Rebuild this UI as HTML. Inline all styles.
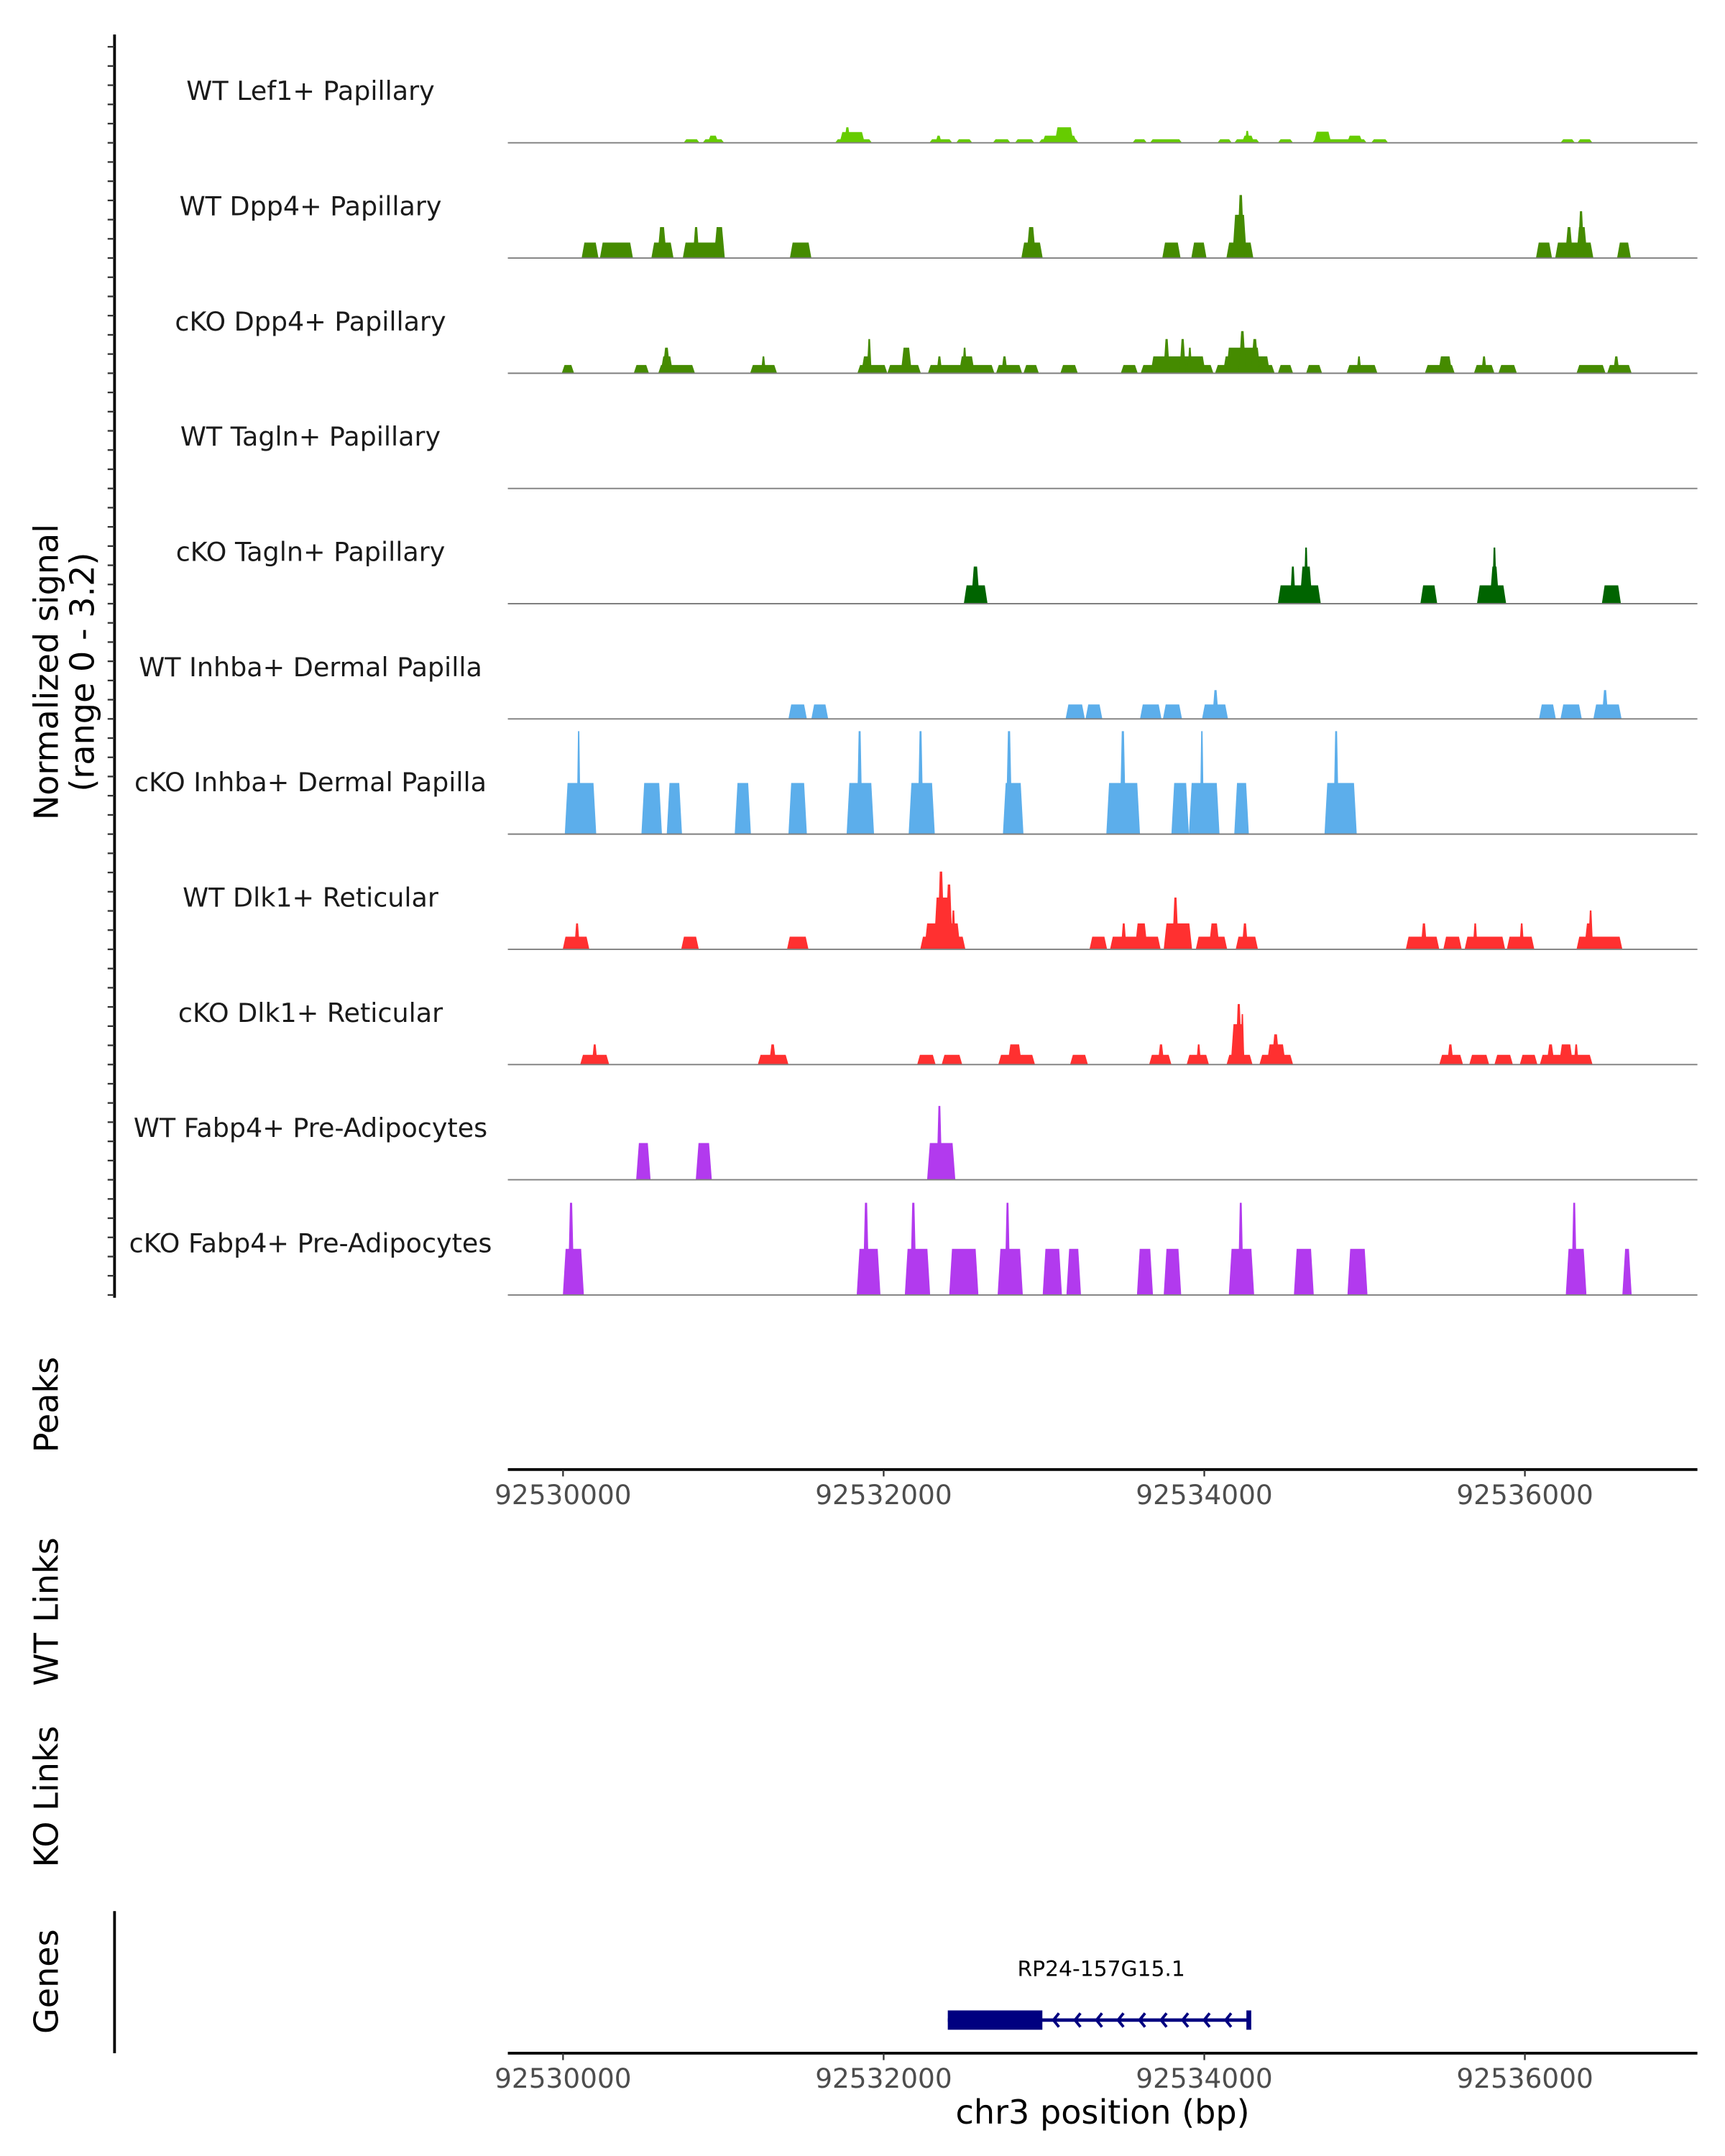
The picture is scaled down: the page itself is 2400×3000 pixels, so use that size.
<!DOCTYPE html>
<html><head><meta charset="utf-8"><title>Coverage plot</title>
<style>
html,body{margin:0;padding:0;background:#fff;}
svg{display:block;font-family:"DejaVu Sans","Liberation Sans",sans-serif;}
</style></head>
<body>
<svg id="chart" xmlns="http://www.w3.org/2000/svg" width="2400" height="3000" viewBox="0 0 1250 1562.5">
<g id="tracks"></g>
<g id="axes"></g>
</svg>
<script>
// ---- data (bp offsets from 92530000, normalized signal 0-3.2) ----
const trackNames = ["WT Lef1+ Papillary","WT Dpp4+ Papillary","cKO Dpp4+ Papillary","WT Tagln+ Papillary","cKO Tagln+ Papillary","WT Inhba+ Dermal Papilla","cKO Inhba+ Dermal Papilla","WT Dlk1+ Reticular","cKO Dlk1+ Reticular","WT Fabp4+ Pre-Adipocytes","cKO Fabp4+ Pre-Adipocytes"];
const trackColors = ["#66cc00","#458b00","#458b00","#006400","#006400","#5caeeb","#5caeeb","#ff3030","#ff3030","#b23aee","#b23aee"];
const lef1WT = [[752,852,0.10],[871,1005,0.10],[902,970,0.2],[1697,1927,0.1],[1725,1882,0.3],[1754,1793,0.43],[2285,2428,0.1],[2323,2362,0.2],[2452,2553,0.1],[2681,2791,0.1],[2819,2940,0.1],[2968,3216,0.1],[2989,3205,0.2],[3067,3185,0.43],[3552,3642,0.1],[3661,3861,0.1],[4082,4172,0.1],[4187,4344,0.1],[4234,4312,0.2],[4253,4283,0.33],[4459,4554,0.1],[4674,5013,0.1],[4684,4792,0.31],[4890,4988,0.2],[5041,5147,0.1],[6222,6312,0.1],[6327,6422,0.1]];
const dpp4WT = [[116,221,0.43],[230,436,0.43],[551,689,0.43],[588,647,0.86],[747,1009,0.43],[810,850,0.86],[941,1009,0.86],[1415,1549,0.43],[2859,2992,0.43],[2890,2950,0.86],[3738,3852,0.43],[3919,4014,0.43],[4138,4306,0.43],[4175,4265,1.2],[4205,4250,1.75],[6069,6169,0.43],[6189,6427,0.43],[6250,6300,0.86],[6320,6390,0.86],[6330,6370,1.3],[6575,6661,0.43]];
const dpp4KO = [[-8,69,0.23],[441,536,0.23],[594,823,0.23],[608,686,0.47],[620,670,0.71],[1167,1335,0.23],[1235,1265,0.47],[1836,2023,0.23],[1860,1921,0.47],[1895,1925,0.95],[2023,2232,0.23],[2107,2176,0.71],[2276,2691,0.23],[2330,2365,0.47],[2470,2568,0.47],[2490,2520,0.71],[2701,2864,0.23],[2734,2773,0.47],[2872,2968,0.23],[3102,3211,0.23],[3479,3585,0.23],[3603,4057,0.23],[3665,4008,0.47],[3745,3785,0.95],[3845,3885,0.95],[3895,3925,0.71],[4067,4439,0.23],[4116,4410,0.47],[4136,4351,0.71],[4215,4260,1.17],[4290,4340,0.95],[4459,4554,0.23],[4635,4735,0.23],[4888,5080,0.23],[4950,4980,0.47],[5376,5562,0.23],[5459,5547,0.47],[5682,5810,0.23],[5728,5762,0.47],[5835,5950,0.23],[6322,6503,0.23],[6513,6666,0.23],[6550,6590,0.47]];
const taglnWT = [];
const taglnKO = [[2500,2648,0.51],[2545,2600,1.03],[4459,4727,0.51],[4535,4570,1.03],[4595,4675,1.03],[4620,4650,1.56],[5348,5453,0.51],[5701,5883,0.51],[5780,5840,1.03],[5795,5825,1.56],[6480,6599,0.51]];
const inhbaWT = [[1406,1521,0.4],[1549,1654,0.4],[3135,3255,0.4],[3259,3364,0.4],[3599,3733,0.4],[3742,3861,0.4],[3986,4148,0.4],[4050,4090,0.8],[6088,6193,0.4],[6222,6355,0.4],[6427,6603,0.4],[6480,6520,0.8]];
const inhbaKO = [[11,207,1.42],[85,110,2.86],[489,617,1.42],[647,742,1.42],[1071,1172,1.42],[1406,1521,1.42],[1769,1940,1.42],[1832,1868,2.86],[2156,2319,1.42],[2212,2248,2.86],[2744,2872,1.42],[2762,2802,2.86],[3389,3599,1.42],[3472,3512,2.86],[3795,3904,1.42],[3904,4095,1.42],[3972,3998,2.86],[4187,4278,1.42],[4750,4951,1.42],[4805,4840,2.86]];
const dlk1WT = [[-2,164,0.35],[70,105,0.72],[737,847,0.35],[1397,1531,0.35],[2228,2510,0.35],[2254,2479,0.72],[2313,2421,1.44],[2335,2380,2.16],[2385,2430,1.8],[2420,2450,1.08],[3284,3394,0.35],[3412,3728,0.35],[3480,3515,0.72],[3567,3646,0.72],[3747,3924,0.72],[3800,3840,1.44],[3947,4143,0.35],[4028,4096,0.72],[4196,4335,0.35],[4234,4273,0.72],[5257,5466,0.35],[5350,5390,0.72],[5491,5606,0.35],[5624,5877,0.35],[5675,5705,0.72],[5887,6059,0.35],[5965,5995,0.72],[6322,6608,0.35],[6370,6430,0.72],[6395,6425,1.08]];
const dlk1KO = [[107,288,0.27],[180,215,0.56],[1215,1406,0.27],[1285,1330,0.56],[2209,2324,0.27],[2362,2490,0.27],[2715,2944,0.27],[2773,2862,0.56],[3163,3274,0.27],[3656,3795,0.27],[3710,3750,0.56],[3890,4029,0.27],[3950,3980,0.56],[4139,4301,0.27],[4165,4253,1.12],[4195,4235,1.68],[4225,4250,1.4],[4344,4554,0.27],[4390,4508,0.56],[4420,4470,0.84],[5466,5614,0.27],[5515,5555,0.56],[5653,5777,0.27],[5810,5925,0.27],[5968,6078,0.27],[6093,6422,0.27],[6135,6185,0.56],[6213,6300,0.56],[6305,6335,0.56]];
const fabp4WT = [[456,546,1.02],[828,928,1.02],[2271,2447,1.02],[2330,2365,2.05]];
const fabp4KO = [[-1,130,1.28],[30,70,2.56],[1832,1980,1.28],[1870,1910,2.56],[2132,2290,1.28],[2165,2205,2.56],[2409,2591,1.28],[2711,2868,1.28],[2755,2790,2.56],[2992,3112,1.28],[3140,3231,1.28],[3580,3680,1.28],[3747,3856,1.28],[4153,4311,1.28],[4210,4245,2.56],[4559,4683,1.28],[4893,5018,1.28],[6255,6384,1.28],[6290,6325,2.56],[6608,6666,1.28]];
const trackData = [lef1WT,dpp4WT,dpp4KO,taglnWT,taglnKO,inhbaWT,inhbaKO,dlk1WT,dlk1KO,fabp4WT,fabp4KO];
const xTicks = [92530000,92532000,92534000,92536000];
const geneName = "RP24-157G15.1";
const geneStart = 92532400, geneCdsEnd = 92532990, geneEnd = 92534280;

// ---- scales ----
const NS="http://www.w3.org/2000/svg";
const BASE=92530000, X0=408, PXBP=0.116167, TOP=20, TH=83.5, YMAX=3.2, PL=368, PR=1230;
const xs = bp => X0 + (bp - BASE) * PXBP;
const xo = off => X0 + off * PXBP;
const hs = v => v / YMAX * TH;
function mk(tag, attrs, parent){const e=document.createElementNS(NS,tag);for(const k in attrs)e.setAttribute(k,attrs[k]);parent.appendChild(e);return e;}
const gT=document.getElementById('tracks'), gA=document.getElementById('axes');

trackData.forEach((blocks,i)=>{
  const base = TOP + TH*(i+1);
  const g = mk('g',{},gT);
  
  
  const lab = mk('text',{x:225,y:base-31,'text-anchor':'middle','font-size':19,fill:'#1a1a1a'},g);
  lab.textContent = trackNames[i];
  
  
  blocks.forEach(b=>{
    const x0=xo(b[0]), x1=xo(b[1]), h=hs(b[2]);
    const t=Math.min(2,(x1-x0)/3);
    const p = mk('polygon',{points:`${x0},${base} ${x0+t},${base-h} ${x1-t},${base-h} ${x1},${base}`,fill:trackColors[i]},g);
    
    
  });
  const ln = mk('line',{x1:PL,x2:PR,y1:base,y2:base,stroke:'#7f7f7f','stroke-width':1},g);
  
  
});

// left axis
const yBot = TOP + TH*11;
const la = mk('line',{x1:83,x2:83,y1:25,y2:yBot+2,stroke:'#000','stroke-width':2},gA);


for(let y=yBot; y>=25; y-=TH/6){
  const t=mk('line',{x1:78,x2:83,y1:y,y2:y,stroke:'#333','stroke-width':1.2},gA);
  
  
}
function vlabel(txt,x,y,fs,name){
  const t=mk('text',{x:x,y:y,'text-anchor':'middle','font-size':fs,fill:'#000',transform:`rotate(-90 ${x} ${y})`},gA);
  t.textContent=txt;
  
  
}
vlabel('Normalized signal',42,487,24,'y-axis-title');
vlabel('(range 0 - 3.2)',68,487,24,'y-axis-range');
vlabel('Peaks',42,1018,24,'peaks-label');
vlabel('WT Links',42,1168,24,'wt-links-label');
vlabel('KO Links',42,1302,24,'ko-links-label');
vlabel('Genes',42,1436,24,'genes-label');

function xaxis(y,name){
  const l=mk('line',{x1:PL,x2:PR,y1:y,y2:y,stroke:'#000','stroke-width':2},gA);
  
  
  xTicks.forEach(v=>{
    const tk=mk('line',{x1:xs(v),x2:xs(v),y1:y,y2:y+5,stroke:'#333','stroke-width':1.2},gA);
    
    
    const tl=mk('text',{x:xs(v),y:y+25,'text-anchor':'middle','font-size':19.5,fill:'#4d4d4d'},gA);
    tl.textContent=String(v);
    
    
  });
}
xaxis(1065,'peaks-x-axis');
xaxis(1488,'genes-x-axis');
const gl=mk('line',{x1:83,x2:83,y1:1385,y2:1488,stroke:'#000','stroke-width':2},gA);


const xt=mk('text',{x:799,y:1539,'text-anchor':'middle','font-size':24,fill:'#000'},gA);
xt.textContent='chr3 position (bp)';



// gene
const gg=mk('g',{},gA);


const gy=1464;
mk('line',{x1:xs(geneStart),x2:xs(geneEnd),y1:gy,y2:gy,stroke:'#000080','stroke-width':2.5},gg);
mk('rect',{x:xs(geneStart),y:gy-7,width:xs(geneCdsEnd)-xs(geneStart),height:14,fill:'#000080'},gg);
mk('rect',{x:xs(geneEnd)-2,y:gy-7,width:3.5,height:14,fill:'#000080'},gg);
for(let x=xs(geneCdsEnd)+8; x<xs(geneEnd)-5; x+=15.6){
  mk('polyline',{points:`${x+4},${gy-5} ${x},${gy} ${x+4},${gy+5}`,fill:'none',stroke:'#000080','stroke-width':2},gg);
}
const gn=mk('text',{x:798,y:1432,'text-anchor':'middle','font-size':15.5,fill:'#000'},gg);
gn.textContent=geneName;


</script>
</body></html>
